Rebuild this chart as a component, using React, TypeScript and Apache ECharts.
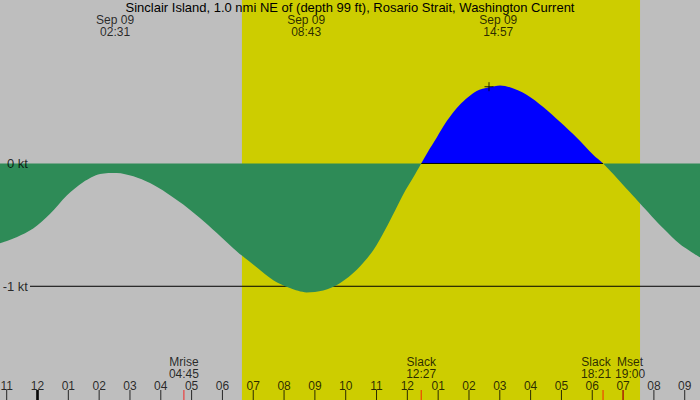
import { useEffect, useRef } from 'react';
import * as echarts from 'echarts';

const TITLE = 'Sinclair Island, 1.0 nmi NE of (depth 99 ft), Rosario Strait, Washington Current';
const DATE_LABEL = 'Sep 09';

// hours after midnight of Sep 09 (negative = evening of Sep 08)
const sampleHours = [
  -1.22, -0.68, -0.14, 0.41, 0.95, 1.49, 2.03, 2.57, 3.11, 3.65, 4.19, 4.73, 5.27, 5.81, 6.35, 6.63,
  7.11, 7.65, 8.19, 8.73, 9.27, 9.81, 10.36, 10.9, 11.28, 11.6, 11.87, 12.19, 12.45, 12.74, 12.95,
  13.28, 13.71, 14.25, 14.65, 15.01, 15.33, 15.87, 16.41, 16.95, 17.5, 18.03, 18.35, 18.68, 19.22,
  19.55, 20.31, 20.84, 21.5,
];
// current speed in knots (flood positive, ebb negative)
const currentKt = [
  -0.65, -0.6, -0.53, -0.41, -0.26, -0.15, -0.085, -0.077, -0.105, -0.16, -0.24, -0.335, -0.445, -0.565, -0.69, -0.75,
  -0.845, -0.95, -1.015, -1.05, -1.035, -0.975, -0.865, -0.705, -0.54, -0.385, -0.25, -0.115, 0, 0.125, 0.21,
  0.345, 0.48, 0.59, 0.62, 0.635, 0.62, 0.56, 0.46, 0.34, 0.21, 0.07, 0, -0.085, -0.235,
  -0.325, -0.53, -0.655, -0.765,
];

const hourTicks = [-1, 0, 1, 2, 3, 4, 5, 6, 7, 8, 9, 10, 11, 12, 13, 14, 15, 16, 17, 18, 19, 20, 21];
const hourTickLabels = [
  '11', '12', '01', '02', '03', '04', '05', '06', '07', '08', '09', '10', '11', '12',
  '01', '02', '03', '04', '05', '06', '07', '08', '09',
];
const midnightHour = 0;

const extremaTimes = ['02:31', '08:43', '14:57'];
const eventNames = ['Mrise', 'Slack', 'Slack', 'Mset'];
const eventTimes = ['04:45', '12:27', '18:21', '19:00'];
const sunriseTime = '06:38';
const sunsetTime = '19:33';
const peakMarker = [14.65, 0.625];

const levelValues = [0, -1];
const levelLabels = ['0 kt', '-1 kt'];

const X_MIN = -1.217;
const X_MAX = 21.496;
const Y_MIN = -1.926;
const Y_MAX = 1.331;
// the -1 kt line starts just right of its label (about 30px in)
const LEVEL_LINE_START = X_MIN + ((X_MAX - X_MIN) * 30) / 700;

const GREY = '#bebebe';
const YELLOW = '#cdcd00';
const GREEN = '#2e8b57';
const BLUE = '#0000ff';
const FONT = 'Liberation Sans';

const toHours = (hhmm: string) => {
  const [h, m] = hhmm.split(':').map(Number);
  return h + m / 60;
};

// nudge for labels that would collide (Slack 18:21 / Mset 19:00)
const eventLabelShift = [0, 0, -7, 7];

const textStyle = { fontSize: 13, fontFamily: FONT, color: '#000' };
const smallText = { fontSize: 12, fontFamily: FONT, color: '#000' };

const tickSeries = (values: number[], color: string, width: number) => ({
  type: 'scatter',
  z: 6,
  silent: true,
  clip: false,
  symbol: 'rect',
  symbolSize: [width, 10],
  symbolOffset: [0, -5],
  itemStyle: { color },
  data: values.map((h) => [h, Y_MIN]),
});

const levelLabelSeries = (index: number) => ({
  type: 'scatter',
  z: 7,
  symbolSize: 0,
  silent: true,
  clip: false,
  data: [[X_MIN, levelValues[index]]],
  label: {
    show: true,
    position: [28, 0],
    align: 'right',
    verticalAlign: 'middle',
    ...textStyle,
    formatter: levelLabels[index],
  },
});

export default function App() {
  const chartRef = useRef<HTMLDivElement | null>(null);

  useEffect(() => {
    if (!chartRef.current) {
      return;
    }
    const chart = echarts.init(chartRef.current, null, { renderer: 'svg' });

    // the zero line only shows where the flood (blue) lies above it, i.e. between the two slacks
    const slackHours = eventTimes.filter((_, i) => eventNames[i] === 'Slack').map(toHours);

    chart.setOption({
      animation: false,
      backgroundColor: GREY,
      textStyle: { fontFamily: FONT },
      title: {
        text: TITLE,
        left: 'center',
        top: 0,
        padding: 0,
        textStyle: { ...textStyle, fontWeight: 'normal', lineHeight: 14 },
      },
      grid: { left: 0, right: 0, top: 0, bottom: 0, containLabel: false },
      xAxis: { type: 'value', min: X_MIN, max: X_MAX, show: false },
      yAxis: { type: 'value', min: Y_MIN, max: Y_MAX, show: false },
      visualMap: {
        type: 'piecewise',
        show: false,
        seriesIndex: 2,
        dimension: 1,
        pieces: [
          { gte: -10, lt: 0, color: GREEN },
          { gte: 0, lte: 10, color: BLUE },
        ],
      },
      series: [
        {
          // daylight band: flat line at the top, filled down to the axis start
          type: 'line',
          z: 1,
          silent: true,
          showSymbol: false,
          lineStyle: { opacity: 0 },
          areaStyle: { color: YELLOW, opacity: 1, origin: 'start' },
          data: [
            [toHours(sunriseTime), Y_MAX],
            [toHours(sunsetTime), Y_MAX],
          ],
        },
        {
          type: 'line',
          z: 2,
          silent: true,
          showSymbol: false,
          lineStyle: { color: '#000', width: 1 },
          data: [
            [LEVEL_LINE_START, levelValues[1]],
            [X_MAX, levelValues[1]],
          ],
        },
        {
          type: 'line',
          name: 'current',
          z: 3,
          smooth: 0.3,
          showSymbol: false,
          silent: true,
          lineStyle: { opacity: 0 },
          areaStyle: { opacity: 1, origin: 0 },
          data: sampleHours.map((h, i) => [h, currentKt[i]]),
        },
        {
          type: 'line',
          z: 4,
          silent: true,
          showSymbol: false,
          lineStyle: { color: '#000', width: 1 },
          data: slackHours.map((h) => [h, levelValues[0]]),
        },
        {
          type: 'scatter',
          z: 5,
          symbolSize: 0,
          silent: true,
          clip: false,
          data: extremaTimes.map((t) => [toHours(t), Y_MAX]),
          label: {
            show: true,
            position: [0, 14],
            align: 'center',
            verticalAlign: 'top',
            lineHeight: 12,
            ...smallText,
            formatter: (p: { dataIndex: number }) => `${DATE_LABEL}\n${extremaTimes[p.dataIndex]}`,
          },
        },
        {
          type: 'scatter',
          z: 5,
          symbolSize: 0,
          silent: true,
          clip: false,
          data: eventTimes.map((t, i) => ({
            value: [toHours(t), Y_MIN],
            label: { position: [eventLabelShift[i], -44.5] },
          })),
          label: {
            show: true,
            align: 'center',
            verticalAlign: 'top',
            lineHeight: 12,
            ...smallText,
            formatter: (p: { dataIndex: number }) => `${eventNames[p.dataIndex]}\n${eventTimes[p.dataIndex]}`,
          },
        },
        {
          type: 'scatter',
          z: 5,
          symbolSize: 0,
          silent: true,
          clip: false,
          data: hourTicks.map((h) => [h, Y_MIN]),
          label: {
            show: true,
            position: [0, -14.5],
            align: 'center',
            verticalAlign: 'middle',
            lineHeight: 12,
            ...smallText,
            formatter: (p: { dataIndex: number }) => hourTickLabels[p.dataIndex],
          },
        },
        levelLabelSeries(0),
        levelLabelSeries(1),
        {
          type: 'scatter',
          z: 6,
          silent: true,
          symbol: 'path://M0,4.5L9,4.5M4.5,0L4.5,9',
          symbolSize: 9,
          itemStyle: { color: 'none', borderColor: '#000', borderWidth: 1 },
          data: [peakMarker],
        },
        tickSeries(hourTicks, '#000', 1),
        tickSeries([midnightHour], '#000', 3),
        tickSeries(eventTimes.map(toHours), '#ff0000', 1),
      ],
    });

    return () => chart.dispose();
  }, []);

  return <div ref={chartRef} style={{ position: 'fixed', left: 0, top: 0, width: 700, height: 400 }} />;
}
